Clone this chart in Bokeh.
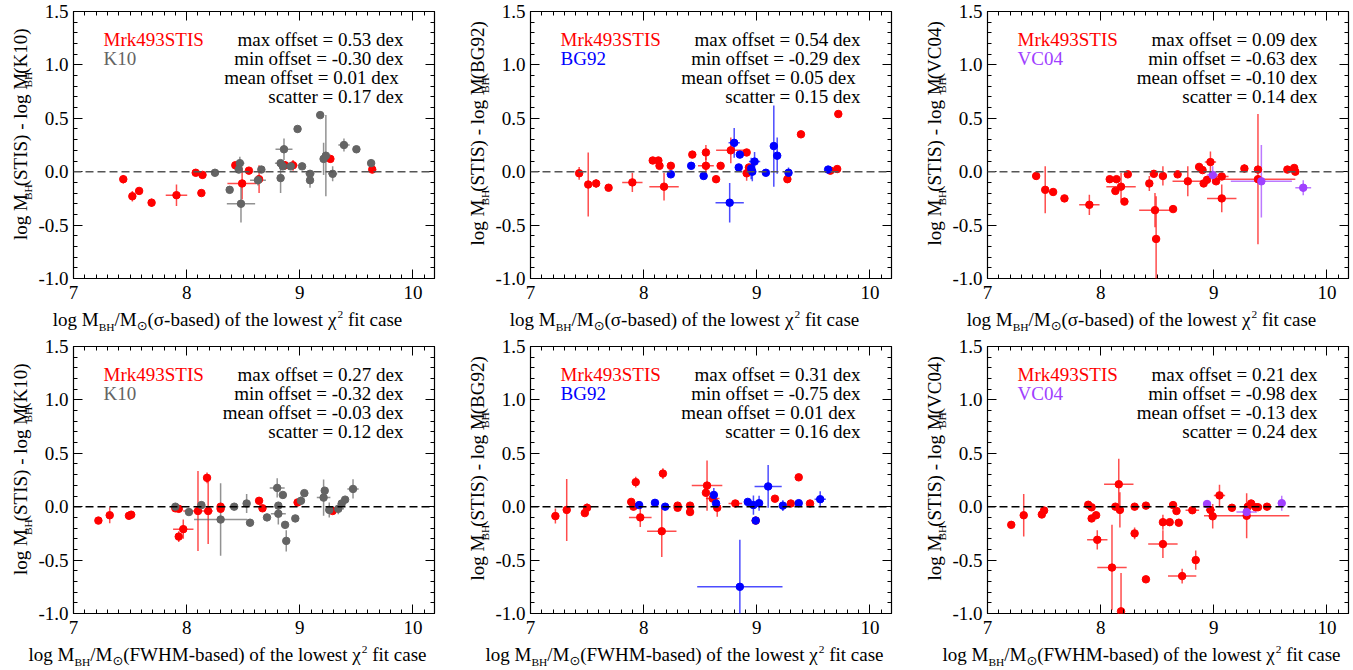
import math
from bokeh.plotting import figure
from bokeh.models import Label, Span, FixedTicker, LinearAxis, CustomJSTickFormatter, ColumnDataSource
from bokeh.layouts import row, column
from bokeh.embed import file_html
from bokeh.resources import INLINE

FONT = "Liberation Serif"
SYM_FONT = "DejaVu Sans"
FS = 19
KMID = 0.34   # distance (em) from alphabetic baseline to the middle of the text box

RED = "#FF0000"
GRAY = "#646464"
BLUE = "#0000FF"
PURPLE = "#A040FF"

X_MIN, X_MAX = 7.0, 10.19
Y_MIN, Y_MAX = -1.0, 1.5
X_TICKS = [7, 8, 9, 10]
X_LABELS = ["7", "8", "9", "10"]
Y_TICKS = [-1.0, -0.5, 0.0, 0.5, 1.0, 1.5]
Y_LABELS = ["-1.0", "-0.5", "0.0", "0.5", "1.0", "1.5"]

# ---------------- data ----------------
# Panel 1: sigma-based, vs K10
P1_RED_X = [7.44, 7.52, 7.58, 7.69, 7.91, 8.08, 8.14, 8.13, 8.43, 8.49, 8.55, 8.64, 8.87, 8.94, 9.27, 9.64]
P1_RED_Y = [-0.07, -0.23, -0.18, -0.29, -0.22, -0.01, -0.03, -0.20, 0.06, -0.11, 0.01, -0.07, 0.06, 0.06, 0.12, 0.02]
P1_RED_XE = [0, 0.03, 0, 0, 0.095, 0, 0, 0, 0, 0.13, 0, 0, 0.04, 0.04, 0.03, 0]
P1_RED_YE = [0.04, 0.05, 0, 0.04, 0.10, 0, 0, 0, 0, 0.15, 0, 0.13, 0.04, 0.05, 0.03, 0]
P1_CMP_X = [8.25, 8.38, 8.47, 8.46, 8.48, 8.66, 8.63, 8.83, 8.83, 8.86, 8.85, 8.92, 8.98, 9.02, 9.09, 9.09, 9.18, 9.21, 9.23, 9.29, 9.39, 9.50, 9.63]
P1_CMP_Y = [-0.01, -0.17, 0.08, 0.02, -0.30, 0.02, -0.08, 0.08, -0.06, 0.21, 0.05, 0.05, 0.40, 0.05, -0.02, -0.08, 0.53, 0.12, 0.15, -0.02, 0.25, 0.21, 0.08]
P1_CMP_XE = [0, 0, 0.04, 0, 0.125, 0, 0.07, 0.05, 0, 0.075, 0, 0, 0, 0, 0.04, 0, 0, 0, 0, 0.04, 0.05, 0, 0]
P1_CMP_YE = [0, 0, 0.06, 0, 0.175, 0, 0.05, 0.03, 0.14, 0.10, 0, 0, 0, 0, 0.03, 0.07, 0, 0.15, 0.38, 0.07, 0.06, 0, 0]

# Panel 2: sigma-based, vs BG92
P2_RED_X = [7.43, 7.51, 7.58, 7.69, 7.90, 8.08, 8.13, 8.14, 8.24, 8.18, 8.43, 8.55, 8.55, 8.64, 8.68, 8.77, 8.91, 8.91, 8.93, 9.27, 9.39, 9.65, 9.71, 9.72]
P2_RED_Y = [-0.015, -0.12, -0.11, -0.15, -0.10, 0.105, 0.105, 0.055, 0.055, -0.14, 0.16, 0.18, 0.055, -0.07, 0.055, 0.20, 0.18, -0.015, 0.04, -0.07, 0.35, 0.01, 0.025, 0.54]
P2_RED_XE = [0, 0.02, 0, 0, 0.09, 0, 0, 0, 0, 0.13, 0, 0, 0.07, 0, 0, 0.13, 0, 0, 0.03, 0.03, 0, 0, 0, 0]
P2_RED_YE = [0.06, 0.30, 0.04, 0.03, 0.09, 0, 0, 0, 0, 0.13, 0, 0.07, 0.08, 0, 0, 0.12, 0, 0.07, 0.03, 0.03, 0, 0, 0, 0]
P2_CMP_X = [8.24, 8.42, 8.53, 8.76, 8.80, 8.85, 8.84, 8.95, 8.96, 8.98, 9.08, 9.15, 9.18, 9.28, 9.63]
P2_CMP_Y = [-0.025, 0.055, -0.04, -0.29, 0.27, 0.16, 0.04, 0.03, 0.0, 0.095, -0.01, 0.24, 0.15, -0.01, 0.02]
P2_CMP_XE = [0, 0, 0, 0.125, 0.05, 0, 0, 0, 0, 0.05, 0.02, 0, 0, 0.02, 0.02]
P2_CMP_YE = [0, 0, 0, 0.185, 0.14, 0, 0, 0.10, 0.09, 0.09, 0.02, 0.38, 0.17, 0.05, 0]

# Panel 3: sigma-based, vs VC04
P3_RED_X = [7.43, 7.51, 7.58, 7.68, 7.90, 8.08, 8.14, 8.13, 8.18, 8.21, 8.24, 8.43, 8.47, 8.48, 8.49, 8.55, 8.64, 8.68, 8.77, 8.87, 8.90, 8.97, 8.91, 8.94, 9.02, 9.07, 9.07, 9.27, 9.39, 9.39, 9.65, 9.71, 9.72]
P3_RED_Y = [-0.04, -0.17, -0.19, -0.25, -0.31, -0.07, -0.07, -0.18, -0.14, -0.28, -0.025, -0.11, -0.02, -0.36, -0.63, -0.04, -0.35, -0.025, -0.09, 0.045, 0.015, 0.09, -0.11, -0.076, -0.09, -0.045, -0.25, 0.03, 0.02, -0.07, 0.02, 0.035, 0.0]
P3_RED_XE = [0, 0, 0, 0, 0.09, 0, 0, 0, 0.13, 0, 0, 0, 0, 0.14, 0, 0.03, 0, 0, 0.135, 0.02, 0, 0.05, 0, 0, 0, 0.06, 0.13, 0.03, 0, 0.33, 0, 0, 0]
P3_RED_YE = [0.03, 0.22, 0.03, 0.03, 0.095, 0, 0, 0, 0.13, 0, 0, 0.07, 0, 0.16, 0.40, 0.09, 0, 0, 0.14, 0.03, 0, 0.10, 0, 0, 0, 0, 0.13, 0.04, 0, 0.61, 0, 0, 0]
P3_CMP_X = [8.99, 9.42, 9.79]
P3_CMP_Y = [-0.03, -0.09, -0.15]
P3_CMP_XE = [0.05, 0.27, 0.07]
P3_CMP_YE = [0.08, 0.34, 0.07]

# Panel 4: FWHM-based, vs K10
P4_RED_X = [7.22, 7.32, 7.49, 7.51, 7.90, 7.93, 7.93, 7.97, 8.10, 8.18, 8.19, 8.30, 8.30, 8.64, 8.67, 8.98, 9.29]
P4_RED_Y = [-0.13, -0.08, -0.085, -0.075, -0.015, -0.02, -0.28, -0.21, -0.04, 0.27, -0.04, 0.0, -0.02, 0.055, -0.015, 0.04, -0.04]
P4_RED_XE = [0, 0, 0.02, 0, 0, 0, 0, 0.09, 0.13, 0, 0, 0, 0, 0.03, 0, 0, 0]
P4_RED_YE = [0.03, 0.075, 0.02, 0.02, 0, 0, 0.05, 0.09, 0.375, 0.05, 0.31, 0.02, 0.02, 0.03, 0.02, 0, 0]
P4_CMP_X = [7.90, 8.02, 8.13, 8.30, 8.42, 8.53, 8.56, 8.71, 8.80, 8.85, 8.81, 8.81, 8.87, 8.88, 8.96, 9.01, 9.04, 9.21, 9.22, 9.26, 9.34, 9.37, 9.40, 9.47]
P4_CMP_Y = [0.0, -0.05, 0.015, -0.12, 0.0, 0.03, -0.15, -0.10, 0.176, 0.11, 0.01, -0.066, -0.17, -0.32, -0.11, 0.055, 0.127, 0.085, 0.15, -0.03, -0.02, 0.03, 0.066, 0.166]
P4_CMP_XE = [0, 0, 0, 0.235, 0, 0, 0.03, 0, 0.066, 0, 0, 0.066, 0, 0, 0, 0, 0, 0.06, 0, 0, 0.05, 0, 0, 0.05]
P4_CMP_YE = [0, 0, 0, 0.34, 0, 0.09, 0.03, 0, 0.09, 0, 0, 0.10, 0, 0.10, 0, 0.04, 0, 0.17, 0, 0.07, 0.05, 0, 0, 0.09]

# Panel 5: FWHM-based, vs BG92
P5_RED_X = [7.22, 7.32, 7.48, 7.50, 7.89, 7.91, 7.93, 7.97, 8.17, 8.16, 8.30, 8.30, 8.41, 8.41, 8.56, 8.55, 8.61, 8.65, 8.81, 8.99, 9.16, 9.30, 9.37, 9.47]
P5_RED_Y = [-0.088, -0.03, -0.06, -0.01, 0.045, 0.0, 0.23, -0.10, 0.31, -0.23, 0.01, -0.01, 0.01, -0.05, 0.198, 0.13, 0.076, -0.01, 0.03, -0.13, 0.075, 0.03, 0.275, 0.03]
P5_RED_XE = [0, 0, 0, 0, 0, 0, 0, 0.10, 0, 0.13, 0, 0, 0, 0, 0.135, 0, 0.06, 0, 0.06, 0, 0, 0, 0, 0]
P5_RED_YE = [0.07, 0.29, 0.02, 0.04, 0, 0, 0.05, 0.09, 0.05, 0.24, 0, 0, 0, 0, 0.235, 0, 0, 0.085, 0, 0, 0, 0, 0, 0]
P5_CMP_X = [7.96, 8.10, 8.19, 8.62, 8.64, 8.85, 8.92, 8.97, 8.99, 9.02, 9.10, 9.23, 9.37, 9.56]
P5_CMP_Y = [0.015, 0.036, 0.0, 0.11, 0.03, -0.75, 0.045, 0.015, -0.13, 0.033, 0.19, 0.01, 0.033, 0.07]
P5_CMP_XE = [0, 0, 0, 0, 0, 0.377, 0, 0, 0, 0, 0.12, 0, 0, 0.05]
P5_CMP_YE = [0, 0, 0, 0.065, 0.03, 0.44, 0, 0.09, 0, 0.07, 0.20, 0.05, 0, 0.075]

# Panel 6: FWHM-based, vs VC04
P6_RED_X = [7.21, 7.32, 7.48, 7.50, 7.89, 7.92, 7.92, 7.96, 7.97, 8.10, 8.16, 8.13, 8.17, 8.18, 8.30, 8.30, 8.40, 8.40, 8.55, 8.55, 8.61, 8.64, 8.67, 8.69, 8.72, 8.81, 8.84, 8.97, 8.99, 9.05, 9.16, 9.29, 9.30, 9.33, 9.37, 9.39, 9.47]
P6_RED_Y = [-0.17, -0.08, -0.073, -0.036, 0.018, -0.006, -0.11, -0.08, -0.31, -0.57, 0.21, 0.0, -0.03, -0.98, 0.0, -0.25, 0.01, -0.68, -0.145, -0.35, -0.145, 0.015, -0.04, -0.15, -0.65, -0.033, -0.50, -0.03, -0.09, 0.106, -0.01, -0.085, 0.0, 0.03, -0.005, -0.005, 0.0]
P6_RED_XE = [0, 0, 0, 0, 0, 0, 0, 0, 0.09, 0.13, 0.13, 0, 0, 0, 0, 0, 0, 0, 0, 0.13, 0, 0, 0, 0, 0.125, 0.06, 0, 0.04, 0, 0.05, 0, 0.377, 0, 0, 0, 0, 0]
P6_RED_YE = [0, 0.2, 0, 0, 0, 0, 0, 0, 0.09, 0.40, 0.24, 0, 0.165, 0.36, 0, 0.055, 0, 0, 0.07, 0.13, 0, 0, 0, 0, 0.07, 0, 0.09, 0, 0.115, 0.10, 0, 0.21, 0, 0, 0, 0, 0]
P6_CMP_X = [8.94, 9.29, 9.60]
P6_CMP_Y = [0.025, -0.05, 0.033]
P6_CMP_XE = [0, 0.09, 0]
P6_CMP_YE = [0, 0.055, 0.07]

CMP_NAMES = ["K10", "BG92", "VC04", "K10", "BG92", "VC04"]
CMP_COLORS = [GRAY, BLUE, PURPLE, GRAY, BLUE, PURPLE]
X_KIND = ["σ-based", "σ-based", "σ-based", "FWHM-based", "FWHM-based", "FWHM-based"]
STAT_MAX = ["0.53", "0.54", "0.09", "0.27", "0.31", "0.21"]
STAT_MIN = ["-0.30", "-0.29", "-0.63", "-0.32", "-0.75", "-0.98"]
STAT_MEAN = [" 0.01", " 0.05", "-0.10", "-0.03", " 0.01", "-0.13"]
STAT_SCATTER = ["0.17", "0.15", "0.14", "0.12", "0.16", "0.24"]
ZERO_COLORS = ["#555555"] * 3 + ["black"] * 3

RED_DATA = [
    (P1_RED_X, P1_RED_Y, P1_RED_XE, P1_RED_YE),
    (P2_RED_X, P2_RED_Y, P2_RED_XE, P2_RED_YE),
    (P3_RED_X, P3_RED_Y, P3_RED_XE, P3_RED_YE),
    (P4_RED_X, P4_RED_Y, P4_RED_XE, P4_RED_YE),
    (P5_RED_X, P5_RED_Y, P5_RED_XE, P5_RED_YE),
    (P6_RED_X, P6_RED_Y, P6_RED_XE, P6_RED_YE),
]
CMP_DATA = [
    (P1_CMP_X, P1_CMP_Y, P1_CMP_XE, P1_CMP_YE),
    (P2_CMP_X, P2_CMP_Y, P2_CMP_XE, P2_CMP_YE),
    (P3_CMP_X, P3_CMP_Y, P3_CMP_XE, P3_CMP_YE),
    (P4_CMP_X, P4_CMP_Y, P4_CMP_XE, P4_CMP_YE),
    (P5_CMP_X, P5_CMP_Y, P5_CMP_XE, P5_CMP_YE),
    (P6_CMP_X, P6_CMP_Y, P6_CMP_XE, P6_CMP_YE),
]

# ---------------- layout constants ----------------
FW, FH = 361, 267          # plot frame
YT_W = 35                  # strip holding the y title
BL, BR, BT, BB = 38, 23, 11, 29
XT_H = 28                  # strip holding the x title
PLOT_H = BT + FH + BB

# Times / Liberation Serif advance widths (per 1000 em)
TW = {' ': 250, '(': 333, ')': 333, '-': 333, '/': 278, '=': 564, '.': 250,
      '0': 500, '1': 500, '2': 500, '3': 500, '4': 500, '5': 500, '6': 500, '7': 500, '8': 500, '9': 500,
      'A': 722, 'B': 667, 'C': 667, 'D': 722, 'E': 611, 'F': 556, 'G': 722, 'H': 722, 'I': 333,
      'K': 722, 'M': 889, 'S': 556, 'T': 611, 'V': 722, 'W': 944,
      'a': 444, 'b': 500, 'c': 444, 'd': 500, 'e': 444, 'f': 333, 'g': 500, 'h': 500, 'i': 278,
      'l': 278, 'n': 500, 'o': 500, 'r': 333, 's': 389, 't': 278, 'w': 722, 'x': 500,
      'σ': 552, 'χ': 500}


def seg_width(text, scale, font):
    if font == SYM_FONT:
        return 0.838 * FS * scale * len(text)
    return sum(TW.get(c, 500) for c in text) / 1000.0 * FS * scale


def blank(w, h):
    b = figure(width=w, height=h, x_range=(0, w), y_range=(0, h), min_border=0,
               output_backend="svg", toolbar_location=None, x_axis_type=None, y_axis_type=None)
    b.outline_line_color = None
    b.grid.visible = False
    b.background_fill_color = "white"
    b.border_fill_color = "white"
    return b


def rich(b, segs, bx, by, vertical):
    """Sub/superscripted title; (bx, by) = baseline centre, in strip pixels."""
    widths = [seg_width(t, s, f) for (t, s, sh, f) in segs]
    total = sum(widths)
    pos = -total / 2.0
    for (t, s, sh, f), w in zip(segs, widths):
        lead = len(t) - len(t.lstrip(" "))
        start = pos + seg_width(" " * lead, s, FONT)
        txt = t.strip(" ")
        size = FS * s
        if vertical:
            lab = Label(x=bx - sh * FS - KMID * size, y=by + start, angle=math.pi / 2)
        else:
            lab = Label(x=bx + start, y=by + sh * FS + KMID * size)
        lab.text = txt
        lab.text_font = f
        lab.text_font_size = "%.1fpx" % size
        lab.text_color = "black"
        lab.text_align = "left"
        lab.text_baseline = "middle"
        b.add_layout(lab)
        pos += w


def style_axis(ax, ticks, minor, labels, show):
    ax.ticker = FixedTicker(ticks=ticks, minor_ticks=minor)
    ax.axis_line_color = None
    ax.major_tick_in = 9
    ax.major_tick_out = 0
    ax.minor_tick_in = 4
    ax.minor_tick_out = 0
    ax.major_tick_line_color = "black"
    ax.minor_tick_line_color = "black"
    ax.major_tick_line_width = 1
    ax.minor_tick_line_width = 1
    if show:
        ax.major_label_overrides = {t: l for t, l in zip(ticks, labels)}
        ax.major_label_text_font = FONT
        ax.major_label_text_font_size = "%dpx" % FS
        ax.major_label_text_color = "black"
    else:
        ax.formatter = CustomJSTickFormatter(code="return ''")
        ax.major_label_text_font_size = "1px"
        ax.major_label_standoff = 0


X_MINOR = [round(7.0 + 0.1 * i, 2) for i in range(33)]
Y_MINOR = [round(-1.0 + 0.1 * i, 2) for i in range(26)]


def errbar_source(xs, ys, xes, yes):
    d = dict(hx0=[], hx1=[], hy=[], vx=[], vy0=[], vy1=[])
    for x, y, xe, ye in zip(xs, ys, xes, yes):
        d["hx0"].append(x - xe); d["hx1"].append(x + xe); d["hy"].append(y)
        d["vx"].append(x); d["vy0"].append(y - ye); d["vy1"].append(y + ye)
    return ColumnDataSource(d)


def make_panel(i, last):
    br = 4 if last else BR
    p = figure(frame_width=FW, frame_height=FH, x_range=(X_MIN, X_MAX), y_range=(Y_MIN, Y_MAX),
               output_backend="svg", toolbar_location=None,
               min_border_left=BL, min_border_right=br,
               min_border_top=BT, min_border_bottom=BB)
    p.grid.visible = False
    p.outline_line_color = "black"
    p.outline_line_width = 1.2
    p.background_fill_color = "white"
    p.border_fill_color = "white"

    style_axis(p.xaxis[0], X_TICKS, X_MINOR, X_LABELS, True)
    p.xaxis[0].major_label_standoff = 7
    style_axis(p.yaxis[0], Y_TICKS, Y_MINOR, Y_LABELS, True)
    p.yaxis[0].major_label_standoff = 5
    top = LinearAxis()
    style_axis(top, X_TICKS, X_MINOR, X_LABELS, False)
    p.add_layout(top, "above")
    right = LinearAxis()
    style_axis(right, Y_TICKS, Y_MINOR, Y_LABELS, False)
    p.add_layout(right, "right")

    p.add_layout(Span(location=0, dimension="width", line_color=ZERO_COLORS[i],
                      line_dash="8 4", line_width=1.5))

    rx, ry, rxe, rye = RED_DATA[i]
    cx, cy, cxe, cye = CMP_DATA[i]
    ccol = CMP_COLORS[i]
    for (xs, ys, xes, yes), col in (((rx, ry, rxe, rye), RED), ((cx, cy, cxe, cye), ccol)):
        src = errbar_source(xs, ys, xes, yes)
        p.segment(x0="hx0", y0="hy", x1="hx1", y1="hy", source=src, line_color=col, line_width=1.5, line_alpha=0.7)
        p.segment(x0="vx", y0="vy0", x1="vx", y1="vy1", source=src, line_color=col, line_width=1.5, line_alpha=0.7)
    p.scatter(rx, ry, size=7.5, marker="circle", fill_color=RED, line_color=RED)
    p.scatter(cx, cy, size=7.5, marker="circle", fill_color=ccol, line_color=ccol)

    mid = KMID * FS
    for k, (txt, col) in enumerate((("Mrk493STIS", RED), (CMP_NAMES[i], ccol))):
        p.add_layout(Label(x=X_MIN, y=Y_MAX, x_offset=30, y_offset=-34 - 19.3 * k + mid, text=txt,
                           text_font=FONT, text_font_size="%dpx" % FS, text_color=col,
                           text_align="left", text_baseline="middle"))
    stats = ["max offset = %s dex" % STAT_MAX[i],
             "min offset = %s dex" % STAT_MIN[i],
             "mean offset = %s dex" % STAT_MEAN[i],
             "scatter = %s dex" % STAT_SCATTER[i]]
    for k, txt in enumerate(stats):
        p.add_layout(Label(x=X_MAX, y=Y_MAX, x_offset=-31, y_offset=-34 - 19.3 * k + mid, text=txt,
                           text_font=FONT, text_font_size="%dpx" % FS, text_color="black",
                           text_align="right", text_baseline="middle"))

    # y title strip (left of the plot); baseline 47 px left of the frame
    yt = blank(YT_W, PLOT_H)
    ysegs = [("log M", 1.0, 0.0, FONT), ("BH", 0.6, -0.3, FONT), ("(STIS) - log M", 1.0, 0.0, FONT),
             ("BH", 0.6, -0.3, FONT), ("(" + CMP_NAMES[i] + ")", 1.0, 0.0, FONT)]
    rich(yt, ysegs, YT_W + BL - 47, BB + FH / 2.0, True)

    # x title strip (below the plot); baseline 47 px below the frame
    total_w = YT_W + BL + FW + br
    xt = blank(total_w, XT_H)
    xsegs = [("log M", 1.0, 0.0, FONT), ("BH", 0.6, -0.3, FONT), ("/M", 1.0, 0.0, FONT),
             ("⊙", 0.68, -0.22, SYM_FONT), ("(" + X_KIND[i] + ") of the lowest ", 1.0, 0.0, FONT),
             ("χ", 1.0, 0.0, FONT), ("2", 0.6, 0.35, FONT), (" fit case", 1.0, 0.0, FONT)]
    rich(xt, xsegs, YT_W + BL + 154, XT_H - (47 - BB), False)

    return column(row(yt, p), xt)


panels = [make_panel(i, i % 3 == 2) for i in range(6)]
layout = column(row(*panels[:3]), row(*panels[3:]))
open("out.html", "w").write(file_html(layout, INLINE))
